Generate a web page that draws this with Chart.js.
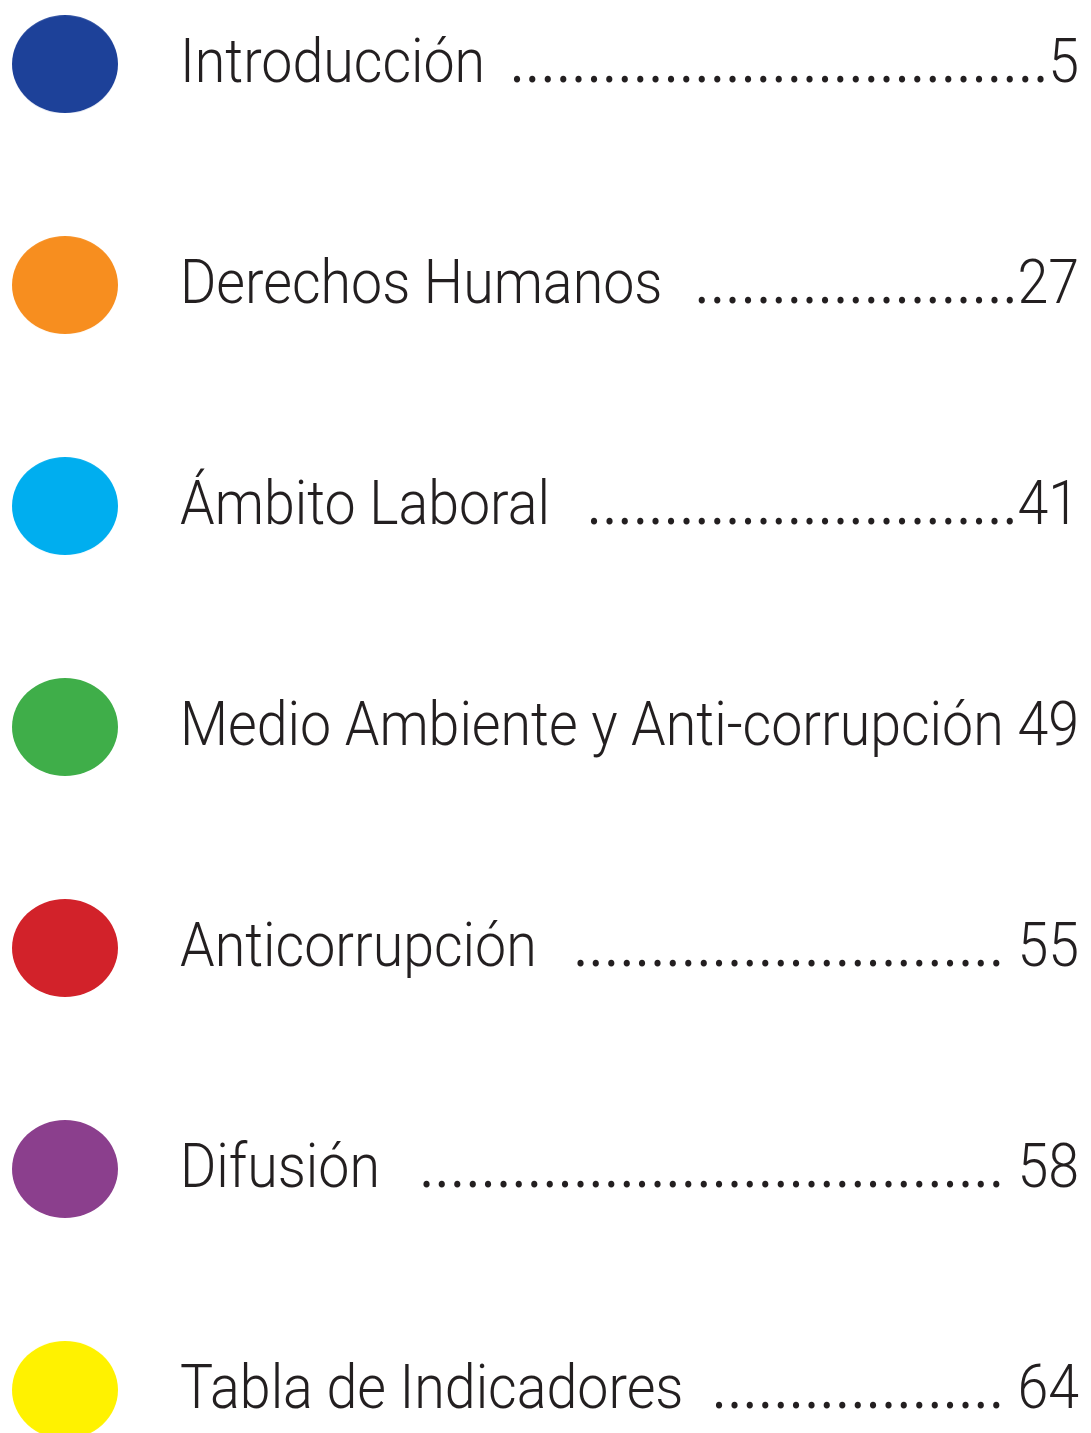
<!DOCTYPE html>
<html>
<head>
<meta charset="utf-8">
<script src="https://cdn.jsdelivr.net/npm/chart.js@4"></script>
<style>
  html, body { margin: 0; padding: 0; background: #fff; }
  #wrap { width: 1091px; height: 1433px; position: relative; }
</style>
</head>
<body>
<div id="wrap"><canvas id="toc"></canvas></div>
<script>
// table of contents rows
const titles = ['Introducción ', 'Derechos Humanos  ', 'Ámbito Laboral  ', 'Medio Ambiente y Anti-corrupción', 'Anticorrupción  ', 'Difusión  ', 'Tabla de Indicadores  '];
const pages = ['5', '27', '41', ' 49', ' 55', ' 58', ' 64'];
const leaders = [true, true, true, false, true, true, true];
const rows = [0, 1, 2, 3, 4, 5, 6];
const colors = ['#1d4199', '#f78e1f', '#00aeef', '#3fae49', '#d2222a', '#8b3f8d', '#fff200'];

const FONT = '300 61px Roboto, sans-serif';
const DOT_FONT = '400 61px Roboto, sans-serif';
const SX = 0.91; // Roboto runs wider than the original face
const DOT_PITCH = 15.4;
const TEXT_X = 180;
const RIGHT_X = 1079;

function ellipse(color) {
    const c = document.createElement('canvas');
    c.width = 106;
    c.height = 98;
    const g = c.getContext('2d');
    g.fillStyle = color;
    g.beginPath();
    g.ellipse(53, 49, 53, 49, 0, 0, Math.PI * 2);
    g.fill();
    return c;
}

function drawText(ctx, str, x, y, align) {
    ctx.save();
    ctx.translate(x, y);
    ctx.scale(SX, 1);
    ctx.textAlign = align;
    ctx.fillText(str, 0, 0);
    ctx.restore();
}

const tocLabels = {
    id: 'tocLabels',
    afterDatasetsDraw(chart) {
        const ctx = chart.ctx;
        const meta = chart.getDatasetMeta(0);
        ctx.save();
        ctx.fillStyle = '#231f20';
        ctx.textBaseline = 'alphabetic';
        const w = s => ctx.measureText(s).width * SX;
        meta.data.forEach((pt, i) => {
            const base = pt.y + 18;
            ctx.font = FONT;
            drawText(ctx, titles[i], TEXT_X, base, 'left');
            drawText(ctx, pages[i], RIGHT_X, base, 'right');
            if (!leaders[i]) return;
            const titleEnd = TEXT_X + w(titles[i]);
            const numStart = RIGHT_X - w(pages[i]);
            ctx.font = DOT_FONT;
            const n = Math.floor((numStart - titleEnd) / DOT_PITCH);
            for (let k = 0; k < n; k++) {
                drawText(ctx, '.', numStart - k * DOT_PITCH, base, 'right');
            }
        });
        ctx.restore();
    }
};

new Chart(document.getElementById('toc'), {
    type: 'scatter',
    data: {
        datasets: [{
            data: rows.map(r => ({ x: 0, y: r })),
            pointStyle: colors.map(ellipse),
            pointRadius: 50,
            pointHoverRadius: 50,
            clip: false
        }]
    },
    options: {
        responsive: true,
        maintainAspectRatio: false,
        animation: false,
        events: [],
        layout: { padding: 0, autoPadding: false },
        plugins: { legend: { display: false }, tooltip: { enabled: false } },
        scales: {
            x: { type: 'linear', display: false, min: -0.65, max: 10.26 },
            y: { type: 'linear', display: false, min: -0.29, max: 6.195, reverse: true }
        }
    },
    plugins: [tocLabels]
});
</script>
</body>
</html>
